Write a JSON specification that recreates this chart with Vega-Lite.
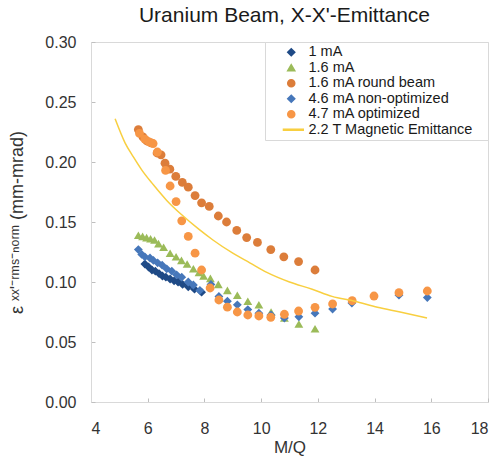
{
  "$schema": "https://vega.github.io/schema/vega-lite/v6.json",
  "width": 397,
  "height": 360,
  "autosize": {"type": "none"},
  "padding": {"left": 91, "top": 42, "right": 9, "bottom": 55},
  "background": "white",
  "config": {
    "font": "Liberation Sans",
    "view": {"stroke": "#d9d9d9", "strokeWidth": 1},
    "axis": {
      "grid": false,
      "domainColor": "#d9d9d9",
      "tickColor": "#bfbfbf",
      "labelColor": "#333333",
      "labelFontSize": 16,
      "labelFont": "Liberation Sans",
      "titleFont": "Liberation Sans",
      "titleFontWeight": "normal",
      "titleColor": "#333333",
      "titleFontSize": 17
    },
    "legend": {
      "labelFont": "Liberation Sans"
    }
  },
  "title": {
    "text": "Uranium Beam, X-X'-Emittance",
    "fontSize": 21,
    "font": "Liberation Sans",
    "fontWeight": "normal",
    "color": "#1a1a1a",
    "anchor": "middle",
    "dx": -5,
    "offset": 8
  },
  "data": {
    "values": [
      {"s": "1 mA", "x": 5.90, "y": 0.115},
      {"s": "1 mA", "x": 6.03, "y": 0.1125},
      {"s": "1 mA", "x": 6.15, "y": 0.110},
      {"s": "1 mA", "x": 6.27, "y": 0.109},
      {"s": "1 mA", "x": 6.40, "y": 0.107},
      {"s": "1 mA", "x": 6.52, "y": 0.105},
      {"s": "1 mA", "x": 6.64, "y": 0.104},
      {"s": "1 mA", "x": 6.79, "y": 0.1025},
      {"s": "1 mA", "x": 6.93, "y": 0.101},
      {"s": "1 mA", "x": 7.07, "y": 0.100},
      {"s": "1 mA", "x": 7.23, "y": 0.098},
      {"s": "1 mA", "x": 7.43, "y": 0.096},
      {"s": "1 mA", "x": 7.65, "y": 0.094},
      {"s": "1 mA", "x": 7.90, "y": 0.0915},

      {"s": "1.6 mA", "x": 5.67, "y": 0.139},
      {"s": "1.6 mA", "x": 5.82, "y": 0.138},
      {"s": "1.6 mA", "x": 5.96, "y": 0.137},
      {"s": "1.6 mA", "x": 6.10, "y": 0.136},
      {"s": "1.6 mA", "x": 6.24, "y": 0.135},
      {"s": "1.6 mA", "x": 6.38, "y": 0.132},
      {"s": "1.6 mA", "x": 6.56, "y": 0.129},
      {"s": "1.6 mA", "x": 6.79, "y": 0.124},
      {"s": "1.6 mA", "x": 7.00, "y": 0.121},
      {"s": "1.6 mA", "x": 7.19, "y": 0.118},
      {"s": "1.6 mA", "x": 7.39, "y": 0.115},
      {"s": "1.6 mA", "x": 7.61, "y": 0.111},
      {"s": "1.6 mA", "x": 7.81, "y": 0.108},
      {"s": "1.6 mA", "x": 7.97, "y": 0.105},
      {"s": "1.6 mA", "x": 8.21, "y": 0.103},
      {"s": "1.6 mA", "x": 8.49, "y": 0.098},
      {"s": "1.6 mA", "x": 8.81, "y": 0.093},
      {"s": "1.6 mA", "x": 9.16, "y": 0.089},
      {"s": "1.6 mA", "x": 9.53, "y": 0.084},
      {"s": "1.6 mA", "x": 9.92, "y": 0.081},
      {"s": "1.6 mA", "x": 10.35, "y": 0.075},
      {"s": "1.6 mA", "x": 10.82, "y": 0.070},
      {"s": "1.6 mA", "x": 11.33, "y": 0.065},
      {"s": "1.6 mA", "x": 11.90, "y": 0.061},

      {"s": "1.6 mA round beam", "x": 5.67, "y": 0.227},
      {"s": "1.6 mA round beam", "x": 5.83, "y": 0.221},
      {"s": "1.6 mA round beam", "x": 5.97, "y": 0.2175},
      {"s": "1.6 mA round beam", "x": 6.12, "y": 0.216},
      {"s": "1.6 mA round beam", "x": 6.33, "y": 0.2075},
      {"s": "1.6 mA round beam", "x": 6.47, "y": 0.206},
      {"s": "1.6 mA round beam", "x": 6.61, "y": 0.199},
      {"s": "1.6 mA round beam", "x": 6.78, "y": 0.194},
      {"s": "1.6 mA round beam", "x": 6.99, "y": 0.188},
      {"s": "1.6 mA round beam", "x": 7.22, "y": 0.183},
      {"s": "1.6 mA round beam", "x": 7.43, "y": 0.179},
      {"s": "1.6 mA round beam", "x": 7.67, "y": 0.172},
      {"s": "1.6 mA round beam", "x": 7.90, "y": 0.166},
      {"s": "1.6 mA round beam", "x": 8.17, "y": 0.163},
      {"s": "1.6 mA round beam", "x": 8.49, "y": 0.155},
      {"s": "1.6 mA round beam", "x": 8.78, "y": 0.150},
      {"s": "1.6 mA round beam", "x": 9.14, "y": 0.143},
      {"s": "1.6 mA round beam", "x": 9.49, "y": 0.137},
      {"s": "1.6 mA round beam", "x": 9.87, "y": 0.133},
      {"s": "1.6 mA round beam", "x": 10.34, "y": 0.127},
      {"s": "1.6 mA round beam", "x": 10.80, "y": 0.121},
      {"s": "1.6 mA round beam", "x": 11.32, "y": 0.117},
      {"s": "1.6 mA round beam", "x": 11.90, "y": 0.110},

      {"s": "4.6 mA non-optimized", "x": 5.67, "y": 0.127},
      {"s": "4.6 mA non-optimized", "x": 5.79, "y": 0.123},
      {"s": "4.6 mA non-optimized", "x": 5.90, "y": 0.121},
      {"s": "4.6 mA non-optimized", "x": 6.08, "y": 0.120},
      {"s": "4.6 mA non-optimized", "x": 6.20, "y": 0.118},
      {"s": "4.6 mA non-optimized", "x": 6.35, "y": 0.116},
      {"s": "4.6 mA non-optimized", "x": 6.51, "y": 0.114},
      {"s": "4.6 mA non-optimized", "x": 6.67, "y": 0.111},
      {"s": "4.6 mA non-optimized", "x": 6.85, "y": 0.109},
      {"s": "4.6 mA non-optimized", "x": 7.02, "y": 0.106},
      {"s": "4.6 mA non-optimized", "x": 7.20, "y": 0.104},
      {"s": "4.6 mA non-optimized", "x": 7.43, "y": 0.100},
      {"s": "4.6 mA non-optimized", "x": 7.61, "y": 0.0975},
      {"s": "4.6 mA non-optimized", "x": 7.84, "y": 0.093},
      {"s": "4.6 mA non-optimized", "x": 8.23, "y": 0.098},
      {"s": "4.6 mA non-optimized", "x": 8.51, "y": 0.088},
      {"s": "4.6 mA non-optimized", "x": 8.81, "y": 0.084},
      {"s": "4.6 mA non-optimized", "x": 9.16, "y": 0.081},
      {"s": "4.6 mA non-optimized", "x": 9.53, "y": 0.077},
      {"s": "4.6 mA non-optimized", "x": 9.92, "y": 0.074},
      {"s": "4.6 mA non-optimized", "x": 10.35, "y": 0.0725},
      {"s": "4.6 mA non-optimized", "x": 10.82, "y": 0.070},
      {"s": "4.6 mA non-optimized", "x": 11.33, "y": 0.071},
      {"s": "4.6 mA non-optimized", "x": 11.90, "y": 0.074},
      {"s": "4.6 mA non-optimized", "x": 12.52, "y": 0.0775},
      {"s": "4.6 mA non-optimized", "x": 13.20, "y": 0.0825},
      {"s": "4.6 mA non-optimized", "x": 14.86, "y": 0.089},
      {"s": "4.6 mA non-optimized", "x": 15.86, "y": 0.087},

      {"s": "4.7 mA optimized", "x": 5.71, "y": 0.2238},
      {"s": "4.7 mA optimized", "x": 5.90, "y": 0.219},
      {"s": "4.7 mA optimized", "x": 6.05, "y": 0.2167},
      {"s": "4.7 mA optimized", "x": 6.19, "y": 0.2154},
      {"s": "4.7 mA optimized", "x": 6.34, "y": 0.2083},
      {"s": "4.7 mA optimized", "x": 6.63, "y": 0.193},
      {"s": "4.7 mA optimized", "x": 6.79, "y": 0.180},
      {"s": "4.7 mA optimized", "x": 7.00, "y": 0.167},
      {"s": "4.7 mA optimized", "x": 7.20, "y": 0.151},
      {"s": "4.7 mA optimized", "x": 7.43, "y": 0.138},
      {"s": "4.7 mA optimized", "x": 7.67, "y": 0.124},
      {"s": "4.7 mA optimized", "x": 7.90, "y": 0.110},
      {"s": "4.7 mA optimized", "x": 8.20, "y": 0.095},
      {"s": "4.7 mA optimized", "x": 8.51, "y": 0.085},
      {"s": "4.7 mA optimized", "x": 8.81, "y": 0.079},
      {"s": "4.7 mA optimized", "x": 9.16, "y": 0.075},
      {"s": "4.7 mA optimized", "x": 9.53, "y": 0.0725},
      {"s": "4.7 mA optimized", "x": 9.92, "y": 0.0717},
      {"s": "4.7 mA optimized", "x": 10.34, "y": 0.0706},
      {"s": "4.7 mA optimized", "x": 10.82, "y": 0.0731},
      {"s": "4.7 mA optimized", "x": 11.32, "y": 0.0758},
      {"s": "4.7 mA optimized", "x": 11.90, "y": 0.0789},
      {"s": "4.7 mA optimized", "x": 12.52, "y": 0.0817},
      {"s": "4.7 mA optimized", "x": 13.21, "y": 0.0844},
      {"s": "4.7 mA optimized", "x": 13.98, "y": 0.0883},
      {"s": "4.7 mA optimized", "x": 14.86, "y": 0.0911},
      {"s": "4.7 mA optimized", "x": 15.86, "y": 0.0925}
    ]
  },
  "layer": [
    {
      "mark": {"type": "point", "filled": true, "opacity": 1, "size": 78},
      "encoding": {
        "x": {
          "field": "x", "type": "quantitative",
          "scale": {"domain": [4, 18], "nice": false, "zero": false},
          "axis": {"title": "M/Q", "values": [4, 6, 8, 10, 12, 14, 16, 18], "tickSize": -4, "labelPadding": 22, "titlePadding": 3}
        },
        "y": {
          "field": "y", "type": "quantitative",
          "scale": {"domain": [0, 0.3], "nice": false},
          "axis": {"title": "ε ˣˣ'⁻ʳᵐˢ⁻ⁿᵒʳᵐ (mm-mrad)", "titleFontSize": 18, "values": [0, 0.05, 0.1, 0.15, 0.2, 0.25, 0.3], "format": ".2f", "tickSize": -4, "labelPadding": 19, "titlePadding": 18}
        },
        "color": {
          "field": "s", "type": "nominal",
          "scale": {
            "domain": ["1 mA", "1.6 mA", "1.6 mA round beam", "4.6 mA non-optimized", "4.7 mA optimized", "2.2 T Magnetic Emittance"],
            "range": ["#1F4A86", "#9BBB59", "#DC7D3A", "#4677BA", "#F79646", "#F8CF40"]
          },
          "legend": {
            "title": " ",
            "titleOrient": "right",
            "titlePadding": 12,
            "orient": "top-right",
            "offset": 0,
            "fillColor": "white",
            "strokeColor": "#d9d9d9",
            "padding": 3,
            "symbolOffset": 16,
            "labelFontSize": 14.5,
            "labelLimit": 300,
            "labelColor": "#1a1a1a",
            "symbolSize": 50,
            "rowPadding": 0.5,
            "labelOffset": 10
          }
        },
        "shape": {
          "field": "s", "type": "nominal",
          "scale": {
            "domain": ["1 mA", "1.6 mA", "1.6 mA round beam", "4.6 mA non-optimized", "4.7 mA optimized", "2.2 T Magnetic Emittance"],
            "range": ["diamond", "triangle-up", "circle", "diamond", "circle", "M-2.2,-0.15H3.4V0.15H-2.2Z"]
          },
          "legend": {
            "title": " ",
            "titleOrient": "right",
            "titlePadding": 12,
            "orient": "top-right",
            "offset": 0,
            "fillColor": "white",
            "strokeColor": "#d9d9d9",
            "padding": 3,
            "symbolOffset": 16,
            "labelFontSize": 14.5,
            "labelLimit": 300,
            "labelColor": "#1a1a1a",
            "symbolSize": 50,
            "rowPadding": 0.5,
            "labelOffset": 10
          }
        }
      }
    },
    {
      "data": {
        "values": [
          {"s": "2.2 T Magnetic Emittance", "x": 4.85, "y": 0.236},
          {"s": "2.2 T Magnetic Emittance", "x": 5.2, "y": 0.216},
          {"s": "2.2 T Magnetic Emittance", "x": 5.5, "y": 0.204},
          {"s": "2.2 T Magnetic Emittance", "x": 5.8, "y": 0.193},
          {"s": "2.2 T Magnetic Emittance", "x": 6.2, "y": 0.181},
          {"s": "2.2 T Magnetic Emittance", "x": 6.67, "y": 0.168},
          {"s": "2.2 T Magnetic Emittance", "x": 7.2, "y": 0.156},
          {"s": "2.2 T Magnetic Emittance", "x": 7.8, "y": 0.144},
          {"s": "2.2 T Magnetic Emittance", "x": 8.3, "y": 0.135},
          {"s": "2.2 T Magnetic Emittance", "x": 9.0, "y": 0.124},
          {"s": "2.2 T Magnetic Emittance", "x": 9.6, "y": 0.116},
          {"s": "2.2 T Magnetic Emittance", "x": 10.2, "y": 0.108},
          {"s": "2.2 T Magnetic Emittance", "x": 11.0, "y": 0.100},
          {"s": "2.2 T Magnetic Emittance", "x": 11.8, "y": 0.094},
          {"s": "2.2 T Magnetic Emittance", "x": 12.5, "y": 0.088},
          {"s": "2.2 T Magnetic Emittance", "x": 13.3, "y": 0.084},
          {"s": "2.2 T Magnetic Emittance", "x": 14.1, "y": 0.079},
          {"s": "2.2 T Magnetic Emittance", "x": 14.9, "y": 0.075},
          {"s": "2.2 T Magnetic Emittance", "x": 15.85, "y": 0.070}
        ]
      },
      "mark": {"type": "line", "strokeWidth": 1.5, "interpolate": "monotone"},
      "encoding": {
        "x": {"field": "x", "type": "quantitative"},
        "y": {"field": "y", "type": "quantitative"},
        "color": {"field": "s", "type": "nominal"}
      }
    }
  ]
}
